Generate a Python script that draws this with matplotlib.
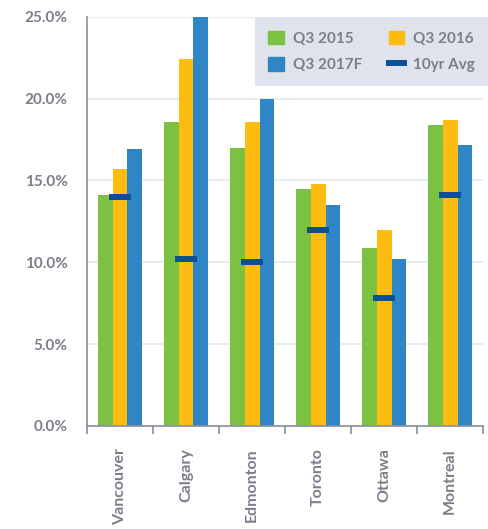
import numpy as np
import matplotlib
matplotlib.use('Agg')
import matplotlib.pyplot as plt
from matplotlib.patches import Patch
from matplotlib.lines import Line2D

plt.rcParams['font.family'] = ['Lato', 'DejaVu Sans']
plt.rcParams['font.weight'] = 'bold'

# dados
cidades = ['Vancouver', 'Calgary', 'Edmonton', 'Toronto', 'Ottawa', 'Montreal']
q3_2015 = [14.1, 18.6, 17.0, 14.5, 10.9, 18.4]
q3_2016 = [15.7, 22.4, 18.6, 14.8, 12.0, 18.7]
q3_2017f = [16.9, 25.0, 20.0, 13.5, 10.2, 17.2]
media_10a = [14.0, 10.2, 10.0, 12.0, 7.8, 14.1]

verde = '#7dc142'
amarelo = '#fdbd10'
azul = '#2e86c6'
azul_escuro = '#0b4f94'
cinza = '#7b7e89'

fig = plt.figure(figsize=(4.89, 5.29), dpi=100)
ax = fig.add_axes([0.178, 0.195, 0.81, 0.773])

x = np.arange(len(cidades))
w = 0.225
ax.bar(x - w, q3_2015, w, color=verde, zorder=2)
ax.bar(x, q3_2016, w, color=amarelo, zorder=2)
ax.bar(x + w, q3_2017f, w, color=azul, zorder=2)
ax.hlines(media_10a, x - 0.165, x + 0.165, color=azul_escuro, linewidth=4.3, zorder=3)

ax.set_xlim(-0.5, 5.5)
ax.set_ylim(0, 25)
ax.set_yticks(np.arange(0, 26, 5))
ax.set_yticklabels(['{:.1f}%'.format(v) for v in np.arange(0, 26, 5)])
ax.yaxis.grid(True, color='#e4e7ee', linewidth=1.2, zorder=0)
ax.set_axisbelow(True)

ax.set_xticks(x)
ax.set_xticklabels(cidades, rotation=90, va='top')
ax.set_xticks(np.arange(-0.5, 6, 1), minor=True)
ax.tick_params(axis='x', which='major', length=0, pad=16)
ax.tick_params(axis='x', which='minor', length=6, width=1.2, color='#8a8e99')
ax.tick_params(axis='y', length=0, pad=14)
for lbl in ax.get_yticklabels():
    lbl.set_color(cinza)
    lbl.set_fontsize(11)
for lbl in ax.get_xticklabels():
    lbl.set_color(cinza)
    lbl.set_fontsize(11.5)

for s in ['top', 'right']:
    ax.spines[s].set_visible(False)
for s in ['left', 'bottom']:
    ax.spines[s].set_color('#8a8e99')
    ax.spines[s].set_linewidth(1.2)

handles = [
    Patch(color=verde, label='Q3 2015'),
    Patch(color=azul, label='Q3 2017F'),
    Patch(color=amarelo, label='Q3 2016'),
    Line2D([0], [0], color=azul_escuro, linewidth=4.3, label='10yr Avg'),
]
leg = fig.legend(handles=handles, ncol=2, loc='upper right',
                 bbox_to_anchor=(1.0, 0.968), bbox_transform=fig.transFigure,
                 frameon=True, fancybox=False, facecolor='#dfe3ec', edgecolor='none',
                 framealpha=1, borderaxespad=0, handlelength=1.03, handleheight=1.0,
                 handletextpad=0.6, columnspacing=1.7, borderpad=0.9, labelspacing=0.75,
                 prop={'size': 11, 'weight': 'bold'})
for t in leg.get_texts():
    t.set_color(cinza)

fig.savefig('out.png', dpi=100)
